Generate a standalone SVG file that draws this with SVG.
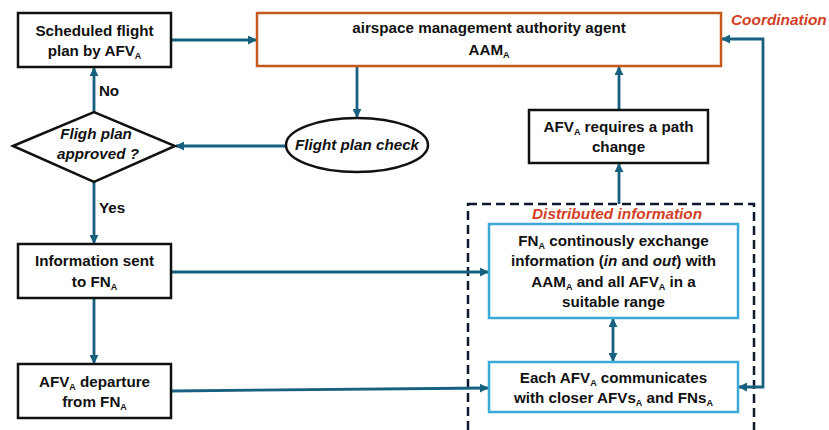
<svg xmlns="http://www.w3.org/2000/svg" width="829" height="430" viewBox="0 0 829 430">
<style>
text{font-family:"Liberation Sans",Arial,sans-serif;font-weight:bold;font-size:15.2px;fill:#111;text-anchor:middle}
.it{font-style:italic}
.red{fill:#D33F27;text-anchor:start;font-size:15.4px}
.sub{font-size:9px}
.box{fill:#fff;stroke:#111;stroke-width:2.5}
.org{fill:#fff;stroke:#C55A1C;stroke-width:2.5}
.blue{fill:#fff;stroke:#3BA9D8;stroke-width:2.5}
.dash{fill:none;stroke:#0E1A2C;stroke-width:2.5;stroke-dasharray:9 5}
.con{fill:none;stroke:#17607F;stroke-width:2.8}
</style>
<defs>
<marker id="ah" viewBox="0 0 10 10" refX="9" refY="5" markerWidth="9" markerHeight="9" markerUnits="userSpaceOnUse" orient="auto-start-reverse">
<path d="M0,0 L10,5 L0,10 z" fill="#17607F"/>
</marker>
</defs>
<rect class="dash" x="468" y="204" width="286" height="240"/>
<text class="red it" x="532" y="219">Distributed information</text>
<text class="red it" x="731" y="25">Coordination</text>
<g id="connectors">
<line class="con" x1="171" y1="40" x2="256" y2="40" marker-end="url(#ah)"/>
<line class="con" x1="357" y1="66" x2="357" y2="117" marker-end="url(#ah)"/>
<line class="con" x1="286" y1="146" x2="176" y2="146" marker-end="url(#ah)"/>
<line class="con" x1="94" y1="112" x2="94" y2="68" marker-end="url(#ah)"/>
<line class="con" x1="94" y1="182" x2="94" y2="243" marker-end="url(#ah)"/>
<line class="con" x1="94" y1="298" x2="94" y2="363" marker-end="url(#ah)"/>
<line class="con" x1="171" y1="272" x2="488" y2="272" marker-end="url(#ah)"/>
<line class="con" x1="171" y1="391" x2="488" y2="388" marker-end="url(#ah)"/>
<line class="con" x1="613" y1="319" x2="613" y2="361" marker-start="url(#ah)" marker-end="url(#ah)"/>
<line class="con" x1="619" y1="204" x2="619" y2="164" marker-end="url(#ah)"/>
<line class="con" x1="619" y1="110" x2="619" y2="67" marker-end="url(#ah)"/>
<path class="con" d="M722,39 H763 V387 H739" marker-start="url(#ah)" marker-end="url(#ah)"/>
</g>
<text x="109" y="96">No</text>
<text x="112" y="213">Yes</text>
<g id="scheduled">
<rect class="box" x="18" y="13" width="153" height="54"/>
<text x="94.5" y="36">Scheduled flight</text>
<text x="94.5" y="56">plan by AFV<tspan class="sub" dy="3">A</tspan></text>
</g>
<g id="aam">
<rect class="org" x="257" y="13" width="464" height="53"/>
<text x="489" y="33">airspace management authority agent</text>
<text x="489" y="55">AAM<tspan class="sub" dy="3">A</tspan></text>
</g>
<g id="check">
<ellipse cx="357" cy="145" rx="71" ry="27" fill="#fff" stroke="#111" stroke-width="2.5"/>
<text class="it" x="357" y="150">Flight plan check</text>
</g>
<g id="approved">
<polygon points="13,146 94,112 175,146 94,182" fill="#fff" stroke="#111" stroke-width="2.5"/>
<text class="it" x="96" y="139">Fligh plan</text>
<text class="it" x="98" y="159">approved ?</text>
</g>
<g id="info">
<rect class="box" x="18" y="244" width="153" height="54"/>
<text x="94.5" y="266">Information sent</text>
<text x="94.5" y="287">to FN<tspan class="sub" dy="3">A</tspan></text>
</g>
<g id="departure">
<rect class="box" x="18" y="364" width="153" height="54"/>
<text x="94.5" y="387">AFV<tspan class="sub" dy="3">A</tspan><tspan dy="-3"> departure</tspan></text>
<text x="94.5" y="407">from FN<tspan class="sub" dy="3">A</tspan></text>
</g>
<g id="pathchange">
<rect class="box" x="529" y="110" width="179" height="53"/>
<text x="618.5" y="132">AFV<tspan class="sub" dy="3">A</tspan><tspan dy="-3"> requires a path</tspan></text>
<text x="618.5" y="152">change</text>
</g>
<g id="fn">
<rect class="blue" x="489" y="224" width="249" height="94"/>
<text x="613.5" y="246">FN<tspan class="sub" dy="3">A</tspan><tspan dy="-3"> continously exchange</tspan></text>
<text x="613.5" y="266">information (<tspan class="it">in</tspan> and <tspan class="it">out</tspan>) with</text>
<text x="613.5" y="287">AAM<tspan class="sub" dy="3">A</tspan><tspan dy="-3"> and all AFV</tspan><tspan class="sub" dy="3">A</tspan><tspan dy="-3"> in a</tspan></text>
<text x="613.5" y="307">suitable range</text>
</g>
<g id="each">
<rect class="blue" x="489" y="362" width="249" height="50"/>
<text x="613.5" y="383">Each AFV<tspan class="sub" dy="3">A</tspan><tspan dy="-3"> communicates</tspan></text>
<text x="613.5" y="403">with closer AFVs<tspan class="sub" dy="3">A</tspan><tspan dy="-3"> and FNs</tspan><tspan class="sub" dy="3">A</tspan></text>
</g>
</svg>
